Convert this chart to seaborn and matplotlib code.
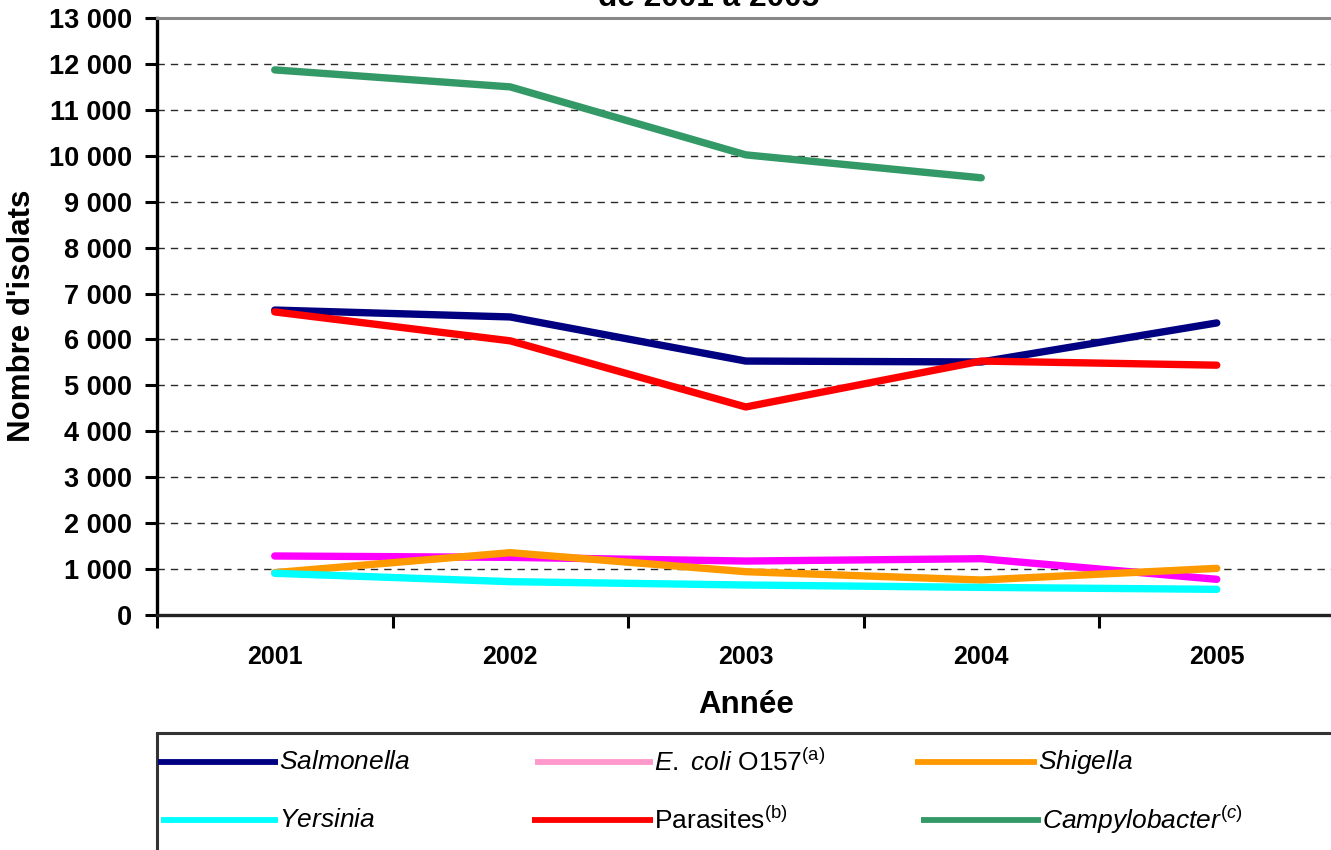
import matplotlib
matplotlib.use("Agg")
import matplotlib.pyplot as plt
from matplotlib.lines import Line2D
from matplotlib.patches import Rectangle
from matplotlib.ticker import FixedLocator, FuncFormatter
import numpy as np
import pandas as pd
import seaborn as sns

# Annual isolate counts by pathogen
years = ["2001", "2002", "2003", "2004", "2005"]
salmonella = [6640, 6490, 5530, 5510, 6360]
ecoli = [1285, 1255, 1175, 1226, 777]
shigella = [922, 1357, 943, 762, 1016]
yersinia = [908, 726, 653, 602, 559]
parasites = [6600, 5970, 4530, 5530, 5440]
campylobacter = [11870, 11500, 10020, 9520, np.nan]

series_names = ["Salmonella", "E. coli O157", "Shigella", "Yersinia",
                "Parasites", "Campylobacter"]
series_values = [salmonella, ecoli, shigella, yersinia, parasites, campylobacter]
line_colors = ["#000080", "#FF00FF", "#FF9900", "#00FFFF", "#FF0000", "#339966"]
legend_colors = ["#000080", "#FF99CC", "#FF9900", "#00FFFF", "#FF0000", "#339966"]
legend_labels = [r"$\mathit{Salmonella}$",
                 r"$\mathit{E.\ coli}$ O157$^{\mathrm{(a)}}$",
                 r"$\mathit{Shigella}$",
                 r"$\mathit{Yersinia}$",
                 r"Parasites$^{\mathrm{(b)}}$",
                 r"$\mathit{Campylobacter}^{(c)}$"]

rows = []
for name, vals in zip(series_names, series_values):
    for i, (yr, v) in enumerate(zip(years, vals)):
        rows.append({"pos": i, "annee": yr, "serie": name, "n": v})
df = pd.DataFrame(rows).dropna()

sns.set_theme(style="white")
plt.rcParams["font.family"] = ["Liberation Sans", "DejaVu Sans"]
plt.rcParams["mathtext.fontset"] = "custom"
plt.rcParams["mathtext.rm"] = "Liberation Sans"
plt.rcParams["mathtext.it"] = "Liberation Sans:italic"
plt.rcParams["mathtext.bf"] = "Liberation Sans:bold"
for key in ["text.color", "axes.labelcolor", "xtick.color", "ytick.color"]:
    plt.rcParams[key] = "black"

W, H = 1331, 850
fig = plt.figure(figsize=(W / 100, H / 100), dpi=100)
fig.patch.set_facecolor("white")

# axes placement in pixels
ax_left, ax_right, ax_top, ax_bottom = 157, 1334.5, 18, 615
ax = fig.add_axes([ax_left / W, 1 - ax_bottom / H,
                   (ax_right - ax_left) / W, (ax_bottom - ax_top) / H])

sns.lineplot(data=df, x="pos", y="n", hue="serie", hue_order=series_names,
             palette=dict(zip(series_names, line_colors)), linewidth=5.3,
             legend=False, sort=False, estimator=None, ax=ax,
             solid_capstyle="round", solid_joinstyle="round")

ax.set_xlim(-0.5, len(years) - 0.5)
ax.set_ylim(0, 13000)

# dashed horizontal grid
for v in range(1000, 13000, 1000):
    ax.axhline(v, color="#2a2a2a", lw=1.0, dashes=(5.3, 4.3), zorder=0)

# y axis
ax.yaxis.set_major_locator(FixedLocator(np.arange(0, 13001, 1000)))
ax.yaxis.set_major_formatter(FuncFormatter(lambda v, p: f"{int(v):,}".replace(",", " ")))
ax.tick_params(axis="y", which="major", direction="out", length=9, width=2.2,
               color="black", labelcolor="black", pad=9.0, labelsize=19.5,
               left=True)
for lab in ax.get_yticklabels():
    lab.set_fontweight("bold")

# x axis: labels at category centres, ticks at boundaries
ax.set_xticks(range(len(years)))
ax.set_xticklabels(years, fontsize=18, fontweight="bold", color="black")
ax.set_xticks(np.arange(-0.5, len(years), 1.0), minor=True)
ax.tick_params(axis="x", which="major", length=0, pad=21.5, bottom=True)
ax.tick_params(axis="x", which="minor", direction="out", length=9, width=2.2,
               color="black", bottom=True)

ax.set_xlabel("")
ax.set_ylabel("")

for side in ["left", "bottom"]:
    ax.spines[side].set_visible(True)
    ax.spines[side].set_linewidth(2.4)
ax.spines["left"].set_color("black")
ax.spines["bottom"].set_color("#222222")
ax.spines["top"].set_visible(True)
ax.spines["top"].set_color("#888888")
ax.spines["top"].set_linewidth(2.2)
ax.spines["right"].set_visible(False)

# axis titles
fig.text((ax_left + ax_right) / 2 / W, 1 - 705 / H, "Année", ha="center",
         va="center", fontsize=22.5, fontweight="bold")
fig.text(22 / W, 1 - 316 / H, "Nombre d'isolats", ha="center", va="center",
         rotation=90, fontsize=22.5, fontweight="bold")

# title (last line)
fig.text(709 / W, 1 - 6 / H, "de 2001 à 2005", ha="center", va="baseline",
         fontsize=22.8, fontweight="bold")

# legend box
fig.patches.append(Rectangle((157 / W, -0.2), 1.0, 0.2 + (1 - 733 / H),
                             transform=fig.transFigure, facecolor="none",
                             edgecolor="#333333", lw=2.2, clip_on=False))

legend_slots = [
    (157.5, 278, 762), (535, 653, 762), (915, 1037, 762),
    (161, 278, 820), (532, 653, 820), (921, 1041, 820),
]
for (x0, x1, yy), col, lab in zip(legend_slots, legend_colors, legend_labels):
    fig.lines.append(Line2D([x0 / W, x1 / W], [1 - yy / H, 1 - yy / H],
                            transform=fig.transFigure, color=col, lw=4.2,
                            solid_capstyle="butt"))
    fig.text((x1 + 1) / W, 1 - yy / H, lab, ha="left", va="center",
             fontsize=19)

fig.savefig("out.png", dpi=100)
